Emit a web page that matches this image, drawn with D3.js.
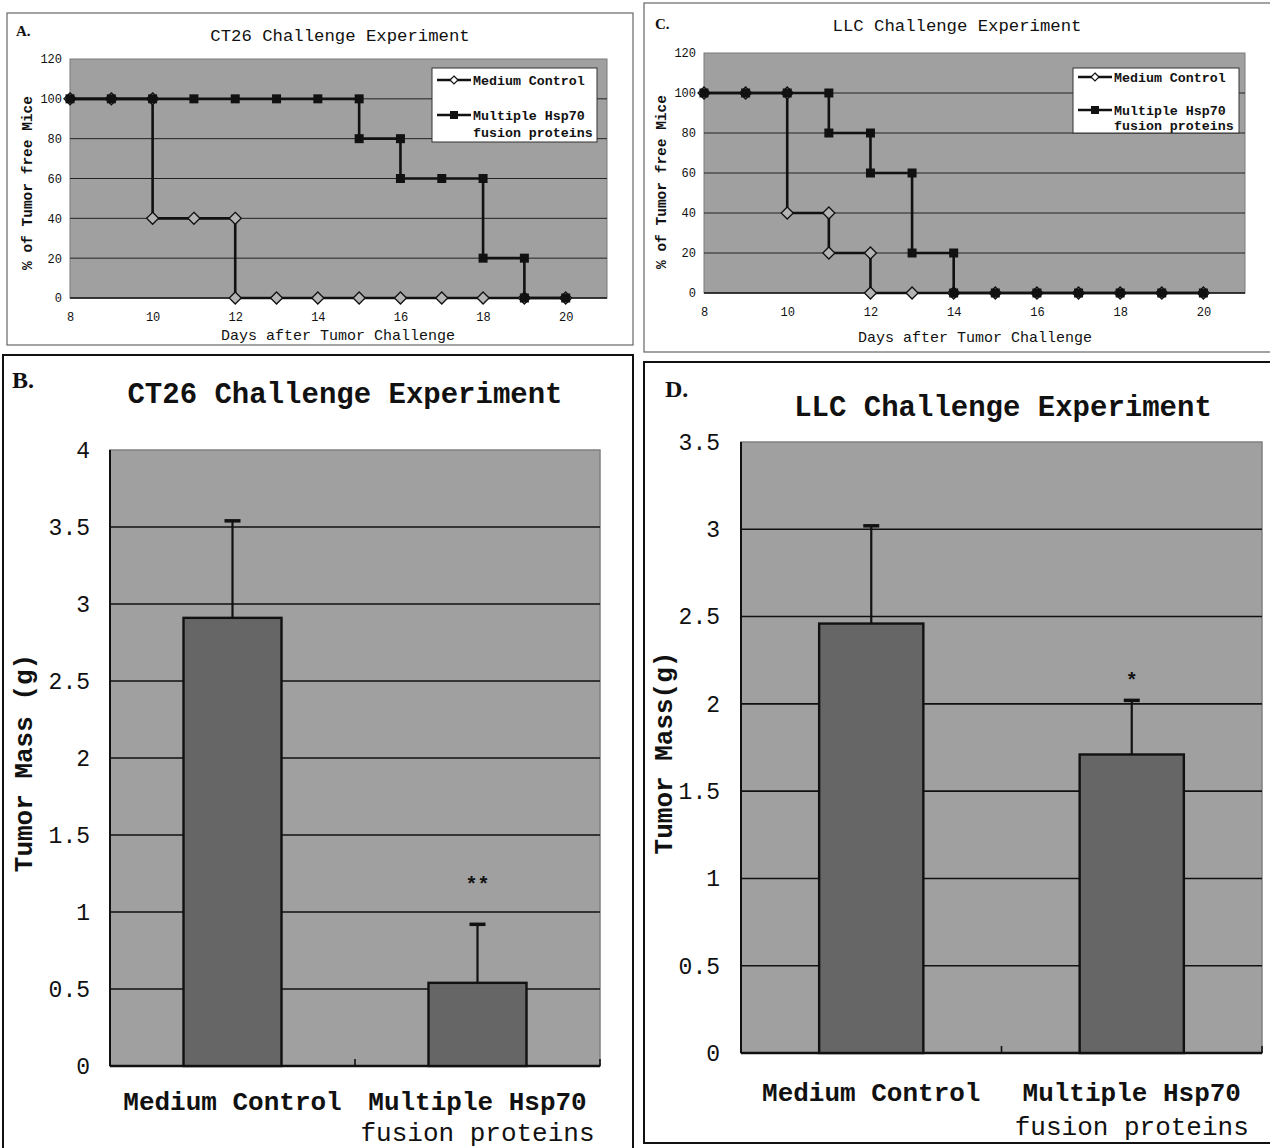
<!DOCTYPE html>
<html>
<head>
<meta charset="utf-8">
<script src="https://cdnjs.cloudflare.com/ajax/libs/d3/7.8.5/d3.min.js"></script>
<style>
body { margin: 0; background: #fff; }
text { font-family: "Liberation Mono", "DejaVu Sans Mono", monospace; fill: #111; }
</style>
</head>
<body>
<svg id="fig" width="1270" height="1148"></svg>
<script>
// survival curves (A: CT26, C: LLC) - each step has a point at both ends
var ct26MediumDays = [8, 9, 10, 10, 11, 12, 12, 13, 14, 15, 16, 17, 18, 19, 20];
var ct26MediumPct  = [100, 100, 100, 40, 40, 40, 0, 0, 0, 0, 0, 0, 0, 0, 0];
var ct26HspDays = [8, 9, 10, 11, 12, 13, 14, 15, 15, 16, 16, 17, 18, 18, 19, 19, 20];
var ct26HspPct  = [100, 100, 100, 100, 100, 100, 100, 100, 80, 80, 60, 60, 60, 20, 20, 0, 0];

var llcMediumDays = [8, 9, 10, 10, 11, 11, 12, 12, 13, 14, 15, 16, 17, 18, 19, 20];
var llcMediumPct  = [100, 100, 100, 40, 40, 20, 20, 0, 0, 0, 0, 0, 0, 0, 0, 0];
var llcHspDays = [8, 9, 10, 11, 11, 12, 12, 13, 13, 14, 14, 15, 16, 17, 18, 19, 20];
var llcHspPct  = [100, 100, 100, 100, 80, 80, 60, 60, 20, 20, 0, 0, 0, 0, 0, 0, 0];

var dayTicks = [8, 10, 12, 14, 16, 18, 20];
var pctTicks = [0, 20, 40, 60, 80, 100, 120];
var seriesNames = ["Medium Control", "Multiple Hsp70 fusion proteins"];

// tumour mass (B: CT26, D: LLC)
var groups = ["Medium Control", "Multiple Hsp70 fusion proteins"];
var groupLines = [["Medium Control"], ["Multiple Hsp70", "fusion proteins"]];
var ct26Mass = [2.91, 0.54];
var ct26Err  = [0.63, 0.38];
var ct26Sig  = ["", "**"];
var ct26Ticks = [0, 0.5, 1, 1.5, 2, 2.5, 3, 3.5, 4];
var llcMass = [2.46, 1.71];
var llcErr  = [0.56, 0.31];
var llcSig  = ["", "*"];
var llcTicks = [0, 0.5, 1, 1.5, 2, 2.5, 3, 3.5];

var svg = d3.select("#fig");
var plotGray = "#a0a0a0";

function diamond(r) { return "M0," + (-r) + "L" + r + ",0L0," + r + "L" + (-r) + ",0Z"; }

function drawSurvival(o) {
  var g = svg.append("g");
  g.append("rect")
    .attr("x", o.box[0]).attr("y", o.box[1]).attr("width", o.box[2]).attr("height", o.box[3])
    .attr("fill", "#fff").attr("stroke", "#666").attr("stroke-width", 1.2);

  var x = d3.scaleLinear().domain([8, 21]).range([o.left, o.right]);
  var y = d3.scaleLinear().domain([0, 120]).range([o.bottom, o.top]);

  g.append("rect")
    .attr("x", o.left).attr("y", o.top).attr("width", o.right - o.left).attr("height", o.bottom - o.top)
    .attr("fill", plotGray).attr("stroke", "#7a7a7a").attr("stroke-width", 1);

  g.selectAll(".grid").data(pctTicks.filter(function(t) { return t > 0 && t < 120; }))
    .enter().append("line")
    .attr("x1", o.left).attr("x2", o.right)
    .attr("y1", function(d) { return y(d); }).attr("y2", function(d) { return y(d); })
    .attr("stroke", "#222").attr("stroke-width", 1);

  g.append("line").attr("x1", o.left).attr("x2", o.right).attr("y1", y(0)).attr("y2", y(0))
    .attr("stroke", "#111").attr("stroke-width", 1.6);

  var ya = g.append("g").attr("transform", "translate(" + o.left + ",0)")
    .call(d3.axisLeft(y).tickValues(pctTicks).tickSize(0).tickPadding(8).tickFormat(d3.format("d")));
  ya.select(".domain").remove();
  ya.selectAll("text").style("font-size", "12px").style("font-family", "Liberation Mono");

  var xa = g.append("g").attr("transform", "translate(0," + o.bottom + ")")
    .call(d3.axisBottom(x).tickValues(dayTicks).tickSize(0).tickPadding(o.xPad).tickFormat(d3.format("d")));
  xa.select(".domain").remove();
  xa.selectAll("text").style("font-size", "12px").style("font-family", "Liberation Mono");

  var line = d3.line().x(function(d) { return x(d[0]); }).y(function(d) { return y(d[1]); });
  var med = d3.zip(o.medDays, o.medPct);
  var hsp = d3.zip(o.hspDays, o.hspPct);

  g.append("path").datum(med).attr("d", line).attr("fill", "none").attr("stroke", "#111").attr("stroke-width", 2.6);
  g.selectAll(".dm").data(med).enter().append("path")
    .attr("transform", function(d) { return "translate(" + x(d[0]) + "," + y(d[1]) + ")"; })
    .attr("d", diamond(6)).attr("fill", "#b4b4b4").attr("stroke", "#111").attr("stroke-width", 1.3);

  g.append("path").datum(hsp).attr("d", line).attr("fill", "none").attr("stroke", "#111").attr("stroke-width", 2.6);
  g.selectAll(".sq").data(hsp).enter().append("rect")
    .attr("x", function(d) { return x(d[0]) - 4.5; }).attr("y", function(d) { return y(d[1]) - 4.5; })
    .attr("width", 9).attr("height", 9).attr("fill", "#111");

  // legend
  var L = o.legend;
  g.append("rect").attr("x", L.x).attr("y", L.y).attr("width", L.w).attr("height", L.h)
    .attr("fill", "#fff").attr("stroke", "#333").attr("stroke-width", 1);
  var lx = L.x + 5;
  g.append("line").attr("x1", lx).attr("x2", lx + 34).attr("y1", L.y1).attr("y2", L.y1).attr("stroke", "#111").attr("stroke-width", 2.4);
  g.append("path").attr("transform", "translate(" + (lx + 17) + "," + L.y1 + ")").attr("d", diamond(4))
    .attr("fill", "#fff").attr("stroke", "#111").attr("stroke-width", 1.2);
  g.append("line").attr("x1", lx).attr("x2", lx + 34).attr("y1", L.y2).attr("y2", L.y2).attr("stroke", "#111").attr("stroke-width", 2.4);
  g.append("rect").attr("x", lx + 13).attr("y", L.y2 - 4).attr("width", 8).attr("height", 8).attr("fill", "#111");
  g.append("text").attr("x", lx + 36).attr("y", L.y1).attr("dy", "0.35em")
    .style("font-size", "13.3px").style("font-weight", "bold").text(seriesNames[0]);
  g.append("text").attr("x", lx + 36).attr("y", L.y2).attr("dy", "0.35em")
    .style("font-size", "13.3px").style("font-weight", "bold").text("Multiple Hsp70");
  g.append("text").attr("x", lx + 36).attr("y", L.y3).attr("dy", "0.35em")
    .style("font-size", "13.3px").style("font-weight", "bold").text("fusion proteins");

  // titles and labels
  g.append("text").attr("x", o.tag[0]).attr("y", o.tag[1]).attr("dy", "0.35em")
    .style("font-family", "Liberation Serif").style("font-weight", "bold").style("font-size", "15px").text(o.tagText);
  g.append("text").attr("x", o.title[0]).attr("y", o.title[1]).attr("dy", "0.35em").attr("text-anchor", "middle")
    .style("font-size", "17.3px").text(o.titleText);
  g.append("text").attr("x", o.xTitle[0]).attr("y", o.xTitle[1]).attr("dy", "0.35em").attr("text-anchor", "middle")
    .style("font-size", "15px").text("Days after Tumor Challenge");
  g.append("text").attr("transform", "translate(" + o.yTitle[0] + "," + o.yTitle[1] + ") rotate(-90)")
    .attr("dy", "0.35em").attr("text-anchor", "middle")
    .style("font-size", "14.5px").style("font-weight", "bold").text("% of Tumor free Mice");
}

function drawMass(o) {
  var g = svg.append("g");
  g.append("rect")
    .attr("x", o.box[0]).attr("y", o.box[1]).attr("width", o.box[2]).attr("height", o.box[3])
    .attr("fill", "#fff").attr("stroke", "#111").attr("stroke-width", 2);

  var x = d3.scaleBand().domain(groups).range([o.left, o.right]).paddingInner(0.6).paddingOuter(0.3);
  var y = d3.scaleLinear().domain([0, o.ticks[o.ticks.length - 1]]).range([o.bottom, o.top]);

  g.append("rect")
    .attr("x", o.left).attr("y", o.top).attr("width", o.right - o.left).attr("height", o.bottom - o.top)
    .attr("fill", plotGray).attr("stroke", "#808080").attr("stroke-width", 1.5);

  g.selectAll(".grid").data(o.ticks.slice(1, -1)).enter().append("line")
    .attr("x1", o.left).attr("x2", o.right)
    .attr("y1", function(d) { return y(d); }).attr("y2", function(d) { return y(d); })
    .attr("stroke", "#111").attr("stroke-width", 1.6);

  // axes lines
  g.append("line").attr("x1", o.left).attr("x2", o.left).attr("y1", o.top).attr("y2", o.bottom)
    .attr("stroke", "#111").attr("stroke-width", 2);
  g.append("line").attr("x1", o.left).attr("x2", o.right).attr("y1", o.bottom).attr("y2", o.bottom)
    .attr("stroke", "#111").attr("stroke-width", 2.4);
  var mid = (o.left + o.right) / 2;
  [mid, o.right].forEach(function(t) {
    g.append("line").attr("x1", t).attr("x2", t).attr("y1", o.bottom).attr("y2", o.bottom - 7)
      .attr("stroke", "#111").attr("stroke-width", 1.6);
  });

  var ya = g.append("g").attr("transform", "translate(" + o.left + ",0)")
    .call(d3.axisLeft(y).tickValues(o.ticks).tickSize(0).tickPadding(o.tickPad).tickFormat(function(d) { return String(d); }));
  ya.select(".domain").remove();
  ya.selectAll("text").style("font-size", "23px").style("font-family", "Liberation Mono");

  var bars = g.selectAll(".bar").data(groups).enter();
  bars.append("rect")
    .attr("x", function(d) { return x(d); })
    .attr("y", function(d, i) { return y(o.mass[i]); })
    .attr("width", x.bandwidth())
    .attr("height", function(d, i) { return o.bottom - y(o.mass[i]); })
    .attr("fill", "#666").attr("stroke", "#111").attr("stroke-width", 2.4);

  bars.append("line")
    .attr("x1", function(d) { return x(d) + x.bandwidth() / 2; })
    .attr("x2", function(d) { return x(d) + x.bandwidth() / 2; })
    .attr("y1", function(d, i) { return y(o.mass[i]); })
    .attr("y2", function(d, i) { return y(o.mass[i] + o.err[i]); })
    .attr("stroke", "#111").attr("stroke-width", 2.2);
  bars.append("line")
    .attr("x1", function(d) { return x(d) + x.bandwidth() / 2 - 8; })
    .attr("x2", function(d) { return x(d) + x.bandwidth() / 2 + 8; })
    .attr("y1", function(d, i) { return y(o.mass[i] + o.err[i]); })
    .attr("y2", function(d, i) { return y(o.mass[i] + o.err[i]); })
    .attr("stroke", "#111").attr("stroke-width", 3.5);

  bars.append("text")
    .attr("x", function(d) { return x(d) + x.bandwidth() / 2; })
    .attr("y", function(d, i) { return y(o.mass[i] + o.err[i]) - o.sigGap; })
    .attr("dy", "0.35em").attr("text-anchor", "middle")
    .style("font-size", "20px").style("font-weight", "bold")
    .text(function(d, i) { return o.sig[i]; });

  // category labels
  groups.forEach(function(gname, i) {
    groupLines[i].forEach(function(t, j) {
      g.append("text")
        .attr("x", x(gname) + x.bandwidth() / 2)
        .attr("y", o.labelY + j * o.labelStep).attr("dy", "0.35em").attr("text-anchor", "middle")
        .style("font-size", "26px").style("font-weight", j === 0 ? "bold" : "normal")
        .text(t);
    });
  });

  g.append("text").attr("x", o.tag[0]).attr("y", o.tag[1]).attr("dy", "0.35em")
    .style("font-family", "Liberation Serif").style("font-weight", "bold").style("font-size", "24px").text(o.tagText);
  g.append("text").attr("x", o.title[0]).attr("y", o.title[1]).attr("dy", "0.35em").attr("text-anchor", "middle")
    .style("font-size", "29px").style("font-weight", "bold").text(o.titleText);
  g.append("text").attr("transform", "translate(" + o.yTitle[0] + "," + o.yTitle[1] + ") rotate(-90)")
    .attr("dy", "0.35em").attr("text-anchor", "middle")
    .style("font-size", "26px").style("font-weight", "bold").text(o.yTitleText);
}

drawSurvival({
  box: [7, 13, 626, 332], left: 70, right: 607, top: 59, bottom: 298, xPad: 14,
  medDays: ct26MediumDays, medPct: ct26MediumPct, hspDays: ct26HspDays, hspPct: ct26HspPct,
  legend: { x: 432, y: 68, w: 165, h: 74, y1: 80, y2: 115, y3: 132 },
  tag: [16, 31], tagText: "A.", title: [340, 35], titleText: "CT26 Challenge Experiment",
  xTitle: [338, 335], yTitle: [27, 183]
});

drawSurvival({
  box: [644, 3, 630, 349], left: 704, right: 1245, top: 53, bottom: 293, xPad: 14,
  medDays: llcMediumDays, medPct: llcMediumPct, hspDays: llcHspDays, hspPct: llcHspPct,
  legend: { x: 1073, y: 68, w: 166, h: 65, y1: 77, y2: 110, y3: 125 },
  tag: [655, 24], tagText: "C.", title: [957, 25], titleText: "LLC Challenge Experiment",
  xTitle: [975, 337], yTitle: [661, 182]
});

drawMass({
  box: [3, 355, 630, 800], left: 110, right: 600, top: 450, bottom: 1066, tickPad: 20,
  ticks: ct26Ticks, mass: ct26Mass, err: ct26Err, sig: ct26Sig, sigGap: 40,
  labelY: 1101, labelStep: 31,
  tag: [12, 380], tagText: "B.", title: [345, 393], titleText: "CT26 Challenge Experiment",
  yTitle: [23, 763], yTitleText: "Tumor Mass (g)"
});

drawMass({
  box: [644, 362, 630, 781], left: 741, right: 1262, top: 442, bottom: 1053, tickPad: 21,
  ticks: llcTicks, mass: llcMass, err: llcErr, sig: llcSig, sigGap: 20,
  labelY: 1092, labelStep: 34,
  tag: [665, 389], tagText: "D.", title: [1003, 406], titleText: "LLC Challenge Experiment",
  yTitle: [663, 753], yTitleText: "Tumor Mass(g)"
});
</script>
</body>
</html>
